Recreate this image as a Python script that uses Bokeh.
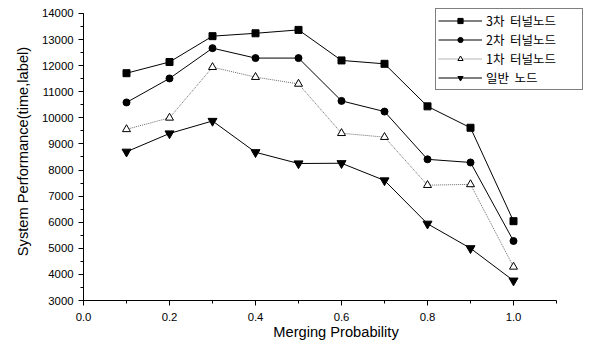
from bokeh.plotting import figure
from bokeh.models import Range1d, SingleIntervalTicker, Legend, LegendItem, ColumnDataSource, PrintfTickFormatter
from bokeh.embed import file_html
from bokeh.resources import INLINE

x = [0.1, 0.2, 0.3, 0.4, 0.5, 0.6, 0.7, 0.8, 0.9, 1.0]
tunnel3 = [11710, 12140, 13130, 13240, 13370, 12200, 12070, 10440, 9620, 6040]
tunnel2 = [10590, 11510, 12670, 12290, 12290, 10650, 10240, 8410, 8290, 5280]
tunnel1 = [9560, 10000, 11940, 11560, 11300, 9410, 9260, 7420, 7450, 4290]
normal = [8700, 9400, 9880, 8680, 8250, 8260, 7600, 5940, 5000, 3760]
names = ["3차  터널노드", "2차  터널노드", "1차  터널노드", "일반  노드"]

p = figure(width=593, height=349, output_backend="svg", toolbar_location=None,
           x_range=Range1d(0, 1.1744), y_range=Range1d(3000, 14420),
           min_border_left=83, min_border_right=5, min_border_top=2, min_border_bottom=49)
p.outline_line_color = None
p.xgrid.visible = False
p.ygrid.visible = False
p.background_fill_color = "white"
p.border_fill_color = "white"

for ax in (p.xaxis[0], p.yaxis[0]):
    ax.axis_line_color = "black"
    ax.major_tick_line_color = "black"
    ax.minor_tick_line_color = "black"
    ax.major_tick_out = 5
    ax.major_tick_in = 0
    ax.minor_tick_out = 3
    ax.minor_tick_in = 0
    ax.major_label_text_font = "Liberation Sans"
    ax.major_label_text_font_size = "8.5pt"
    ax.major_label_text_font_style = "normal"
    ax.major_label_text_color = "black"
    ax.axis_label_text_font = "Liberation Sans"
    ax.axis_label_text_font_style = "normal"
    ax.axis_label_text_color = "black"
    ax.axis_label_text_font_size = "11pt"

p.xaxis.bounds = (0, 1.1)
p.yaxis.bounds = (3000, 14000)
p.xaxis.ticker = SingleIntervalTicker(interval=0.2, num_minor_ticks=2)
p.yaxis.ticker = SingleIntervalTicker(interval=1000, num_minor_ticks=2)
p.xaxis.formatter = PrintfTickFormatter(format="%.1f")
p.xaxis.axis_label = "Merging Probability"
p.yaxis.axis_label = "System Performance(time,label)"
p.xaxis.major_label_standoff = 7
p.xaxis.axis_label_standoff = 0
p.yaxis.axis_label_standoff = 8

src = ColumnDataSource(dict(x=x, t3=tunnel3, t2=tunnel2, t1=tunnel1, n=normal))

l3 = p.line("x", "t3", source=src, line_color="black", line_width=1)
m3 = p.scatter("x", "t3", source=src, marker="square", size=7, fill_color="black", line_color="black")
l2 = p.line("x", "t2", source=src, line_color="black", line_width=1)
m2 = p.scatter("x", "t2", source=src, marker="circle", size=7, fill_color="black", line_color="black")
l1 = p.line("x", "t1", source=src, line_color="#444444", line_width=0.8, line_dash="1 1")
m1 = p.scatter("x", "t1", source=src, marker="triangle", size=8, fill_color="white", line_color="black")
l0 = p.line("x", "n", source=src, line_color="black", line_width=1)
m0 = p.scatter("x", "n", source=src, marker="inverted_triangle", size=9, fill_color="black", line_color="black")

legend = Legend(items=[
    LegendItem(label=names[0], renderers=[l3, m3]),
    LegendItem(label=names[1], renderers=[l2, m2]),
    LegendItem(label=names[2], renderers=[l1, m1]),
    LegendItem(label=names[3], renderers=[l0, m0]),
], location=(352, 210))
legend.label_text_font = "Noto Sans CJK KR"
legend.label_text_font_size = "12.5px"
legend.label_text_color = "black"
legend.border_line_color = "black"
legend.border_line_width = 1.5
legend.glyph_width = 44
legend.glyph_height = 13
legend.label_height = 13
legend.label_width = 94
legend.spacing = 0
legend.padding = 2
legend.margin = 0
legend.label_standoff = 4
legend.label_text_line_height = 1.0
legend.background_fill_alpha = 1
p.add_layout(legend, "center")

open("out.html", "w").write(file_html(p, INLINE))
